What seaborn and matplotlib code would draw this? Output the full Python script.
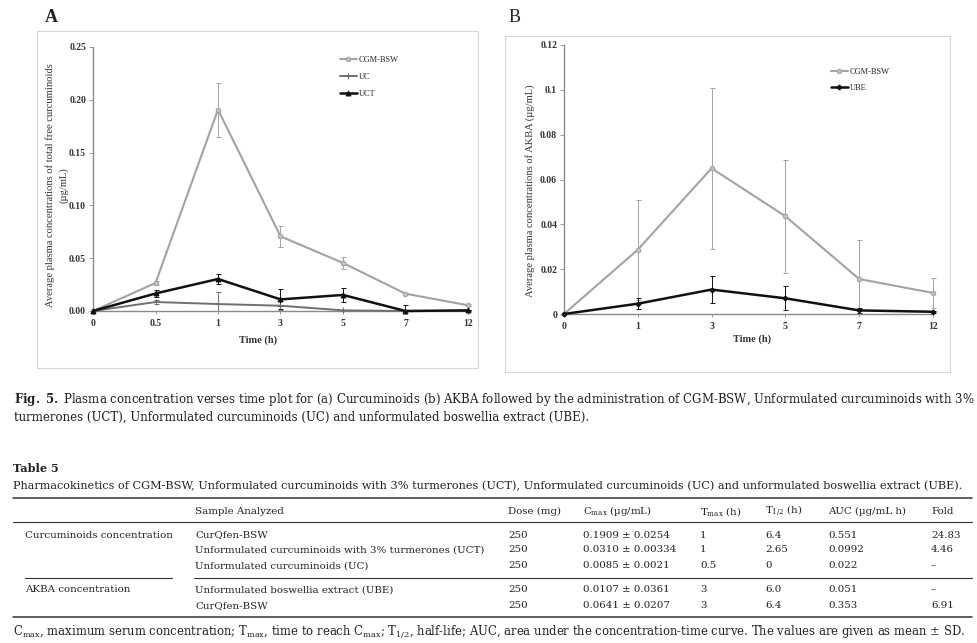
import numpy as np
import pandas as pd
import matplotlib
matplotlib.use("Agg")
import matplotlib.pyplot as plt
import seaborn as sns
from matplotlib.lines import Line2D
from matplotlib.patches import Rectangle

# ---- donnees panneau A (curcuminoides) ----
times_a = ["0", "0.5", "1", "3", "5", "7", "12"]
cgm_a = [0, 0.0265, 0.1907, 0.0707, 0.0455, 0.0164, 0.0054]
cgm_a_sd = [0, 0.0020, 0.0256, 0.0100, 0.0057, 0.0010, 0.0010]
uc_a = [0, 0.0085, 0.0066, 0.0050, 0.0006, 0, 0]
uc_a_sd = [0, 0.0021, 0.0112, 0.0040, 0, 0, 0]
uct_a = [0, 0.0166, 0.0303, 0.0110, 0.0152, 0, 0.0006]
uct_a_sd = [0, 0.0030, 0.0044, 0.0095, 0.0068, 0.0057, 0]

# ---- donnees panneau B (AKBA) ----
times_b = ["0", "1", "3", "5", "7", "12"]
cgm_b = [0, 0.0287, 0.0650, 0.0436, 0.0156, 0.0094]
cgm_b_sd = [0, 0.0223, 0.0358, 0.0252, 0.0173, 0.0067]
ube_b = [0, 0.0046, 0.0109, 0.0070, 0.0016, 0.0010]
ube_b_sd = [0, 0.0025, 0.0060, 0.0053, 0.0010, 0.0005]

# ---- tableau 5 ----
groups = ["Curcuminoids concentration", "AKBA concentration"]
header = ["Sample Analyzed", "Dose (mg)", r"C$_{\mathrm{max}}$ (µg/mL)", r"T$_{\mathrm{max}}$ (h)",
          r"T$_{1/2}$ (h)", "AUC (µg/mL h)", "Fold"]
samples = ["CurQfen-BSW", "Unformulated curcuminoids with 3% turmerones (UCT)",
           "Unformulated curcuminoids (UC)", "Unformulated boswellia extract (UBE)", "CurQfen-BSW"]
doses = ["250", "250", "250", "250", "250"]
cmax = ["0.1909 ± 0.0254", "0.0310 ± 0.00334", "0.0085 ± 0.0021", "0.0107 ± 0.0361", "0.0641 ± 0.0207"]
tmax = ["1", "1", "0.5", "3", "3"]
t_half = ["6.4", "2.65", "0", "6.0", "6.4"]
auc = ["0.551", "0.0992", "0.022", "0.051", "0.353"]
fold = ["24.83", "4.46", "–", "–", "6.91"]

caption_1 = (r"$\mathbf{Fig.\ 5.}$ Plasma concentration verses time plot for (a) Curcuminoids (b) AKBA "
             "followed by the administration of CGM-BSW, Unformulated curcuminoids with 3%")
caption_2 = "turmerones (UCT), Unformulated curcuminoids (UC) and unformulated boswellia extract (UBE)."
table_title = "Pharmacokinetics of CGM-BSW, Unformulated curcuminoids with 3% turmerones (UCT), " \
              "Unformulated curcuminoids (UC) and unformulated boswellia extract (UBE)."
footnote = (r"C$_{\mathrm{max}}$, maximum serum concentration; T$_{\mathrm{max}}$, time to reach "
            r"C$_{\mathrm{max}}$; T$_{1/2}$, half-life; AUC, area under the concentration-time curve. "
            "The values are given as mean ± SD.")

W, H = 978, 643


def fx(x):
    return x / W


def fy(y):
    return 1 - y / H


sns.set_theme(style="white")
plt.rcParams['font.family'] = ['DejaVu Serif']
plt.rcParams['mathtext.fontset'] = 'dejavuserif'

fig = plt.figure(figsize=(9.78, 6.43), dpi=100)
renderer = fig.canvas.get_renderer()

CHART_FONT = 'Liberation Serif'
TXT = '#222222'
AXTXT = '#333333'


def fit(t, width_px):
    # ajuste la taille de police pour que le texte fasse la largeur voulue
    for _ in range(3):
        bb = t.get_window_extent(renderer=renderer)
        t.set_fontsize(t.get_fontsize() * width_px / bb.width)
    return t


# cadres gris autour des deux graphiques
for (x0, y0, x1, y1) in [(37, 31, 478, 368), (505, 36, 950, 372)]:
    fig.add_artist(Rectangle((fx(x0), fy(y1)), (x1 - x0) / W, (y1 - y0) / H, fill=False,
                             ec='#d6d6d6', lw=0.8, transform=fig.transFigure))

ax_a = fig.add_axes([fx(93), fy(311), (468 - 93) / W, (311 - 47) / H])
ax_b = fig.add_axes([fx(564), fy(314), (933 - 564) / W, (314 - 45) / H])


def courbe(ax, times, vals, sd, label, color, marker, ms, lw, mfc=None):
    df = pd.DataFrame({"pos": np.arange(len(times)), "conc": vals, "sd": sd})
    sns.lineplot(data=df, x="pos", y="conc", ax=ax, color=color, lw=lw, marker=marker,
                 markersize=ms, markerfacecolor=mfc if mfc else color, markeredgecolor=color,
                 markeredgewidth=0.8, label=label, clip_on=False, zorder=3)
    # barres d'erreur coupees a zero (comme dans Excel)
    bas = np.minimum(df["sd"], df["conc"])
    ax.errorbar(df["pos"], df["conc"], yerr=[bas, df["sd"]], fmt='none', ecolor=color,
                elinewidth=0.7, capsize=1.8, capthick=0.7, zorder=2, clip_on=False)


courbe(ax_a, times_a, cgm_a, cgm_a_sd, "CGM-BSW", '#a3a3a3', 'o', 3.2, 1.5, mfc='#c4c4c4')
courbe(ax_a, times_a, uc_a, uc_a_sd, "UC", '#707070', '+', 4, 1.4)
courbe(ax_a, times_a, uct_a, uct_a_sd, "UCT", '#111111', '^', 3.5, 1.8)

courbe(ax_b, times_b, cgm_b, cgm_b_sd, "CGM-BSW", '#a3a3a3', 'o', 3.2, 1.5, mfc='#c4c4c4')
courbe(ax_b, times_b, ube_b, ube_b_sd, "UBE", '#111111', 'D', 2.5, 1.8)

ax_a.set_xlim(0, len(times_a) - 1)
ax_a.set_ylim(0, 0.25)
ax_a.set_xticks(range(len(times_a)))
ax_a.set_xticklabels(times_a)
yt_a = np.arange(0, 0.26, 0.05)
ax_a.set_yticks(yt_a)
ax_a.set_yticklabels([f"{v:.2f}" for v in yt_a])

ax_b.set_xlim(0, len(times_b) - 1)
ax_b.set_ylim(0, 0.12)
ax_b.set_xticks(range(len(times_b)))
ax_b.set_xticklabels(times_b)
yt_b = [0, 0.02, 0.04, 0.06, 0.08, 0.1, 0.12]
ax_b.set_yticks(yt_b)
ax_b.set_yticklabels([f"{v:g}" for v in yt_b])

legend_pos = {ax_a: (340, 56, 1.1), ax_b: (831, 68, 0.9)}
for ax in [ax_a, ax_b]:
    sns.despine(ax=ax)
    for s in ['left', 'bottom']:
        ax.spines[s].set_color('#8a8a8a')
        ax.spines[s].set_linewidth(1.0)
    ax.set_xlabel('')
    ax.set_ylabel('')
    ax.tick_params(axis='y', left=True, length=3, width=0.6, color='#8a8a8a', pad=2,
                   labelsize=7, labelcolor=AXTXT)
    ax.tick_params(axis='x', bottom=True, length=2, width=0.6, color='#8a8a8a', pad=4,
                   labelsize=7, labelcolor=AXTXT)
    for lbl in ax.get_xticklabels() + ax.get_yticklabels():
        lbl.set_fontfamily(CHART_FONT)
        lbl.set_fontweight('bold')
    lx, ly, sp = legend_pos[ax]
    ax.legend(loc='upper left', bbox_to_anchor=(fx(lx), fy(ly)), bbox_transform=fig.transFigure,
              frameon=False, prop={'family': CHART_FONT, 'size': 6}, handlelength=2.0,
              handletextpad=0.25, labelspacing=sp, borderpad=0, borderaxespad=0)

# titres d'axes
fig.text(fx(57), fy(185), "Average plasma concentrations of total free curcuminoids\n(µg/mL)",
         rotation=90, ha='center', va='center', multialignment='center', linespacing=1.5,
         family=CHART_FONT, size=7.6, color=AXTXT)
fig.text(fx(530), fy(191), "Average plasma concentrations of AKBA (µg/mL)", rotation=90,
         ha='center', va='center', family=CHART_FONT, size=7.6, color=AXTXT)
fig.text(fx(258), fy(340), "Time (h)", ha='center', va='center', family=CHART_FONT,
         weight='bold', size=7.4, color=AXTXT)
fig.text(fx(752), fy(339), "Time (h)", ha='center', va='center', family=CHART_FONT,
         weight='bold', size=7.4, color=AXTXT)

# lettres des panneaux
fig.text(fx(51), fy(17), "A", ha='center', va='center', family=CHART_FONT, weight='bold',
         size=13, color=TXT)
fig.text(fx(515), fy(17), "B", ha='center', va='center', family=CHART_FONT, size=13, color=TXT)

# legende de la figure
c1 = fit(fig.text(fx(14), fy(399), caption_1, ha='left', va='center', size=8, color=TXT), 958)
fig.text(fx(14), fy(417), caption_2, ha='left', va='center', size=c1.get_fontsize(), color=TXT)

# tableau 5
fit(fig.text(fx(13), fy(468), "Table 5", ha='left', va='center', weight='bold', size=8, color=TXT), 46)
fit(fig.text(fx(13), fy(486), table_title, ha='left', va='center', size=8, color=TXT), 957)

ref = fit(fig.text(fx(195), fy(550), samples[1], ha='left', va='center', size=8, color=TXT), 290)
fs = ref.get_fontsize()
ref.remove()

col_x = [195, 508, 583, 700, 765, 828, 931]
row_y = [535, 550, 566, 590, 606]

for x, h in zip(col_x, header):
    fig.text(fx(x), fy(511), h, ha='left', va='center', size=fs, color=TXT)
fig.text(fx(25), fy(535), groups[0], ha='left', va='center', size=fs, color=TXT)
fig.text(fx(25), fy(590), groups[1], ha='left', va='center', size=fs, color=TXT)

for i, y in enumerate(row_y):
    row = [samples[i], doses[i], cmax[i], tmax[i], t_half[i], auc[i], fold[i]]
    for x, val in zip(col_x, row):
        fig.text(fx(x), fy(y), val, ha='left', va='center', size=fs, color=TXT)


def regle(x0, x1, y, lw):
    fig.add_artist(Line2D([fx(x0), fx(x1)], [fy(y), fy(y)], color='#333333', lw=lw,
                          transform=fig.transFigure))


regle(13, 972, 498, 1.1)
regle(13, 972, 522, 0.8)
regle(25, 172, 578, 0.8)
regle(194, 972, 578, 0.8)
regle(13, 972, 617, 1.1)

fit(fig.text(fx(13), fy(632), footnote, ha='left', va='center', size=8, color=TXT), 945)

fig.savefig("out.png", dpi=100)
